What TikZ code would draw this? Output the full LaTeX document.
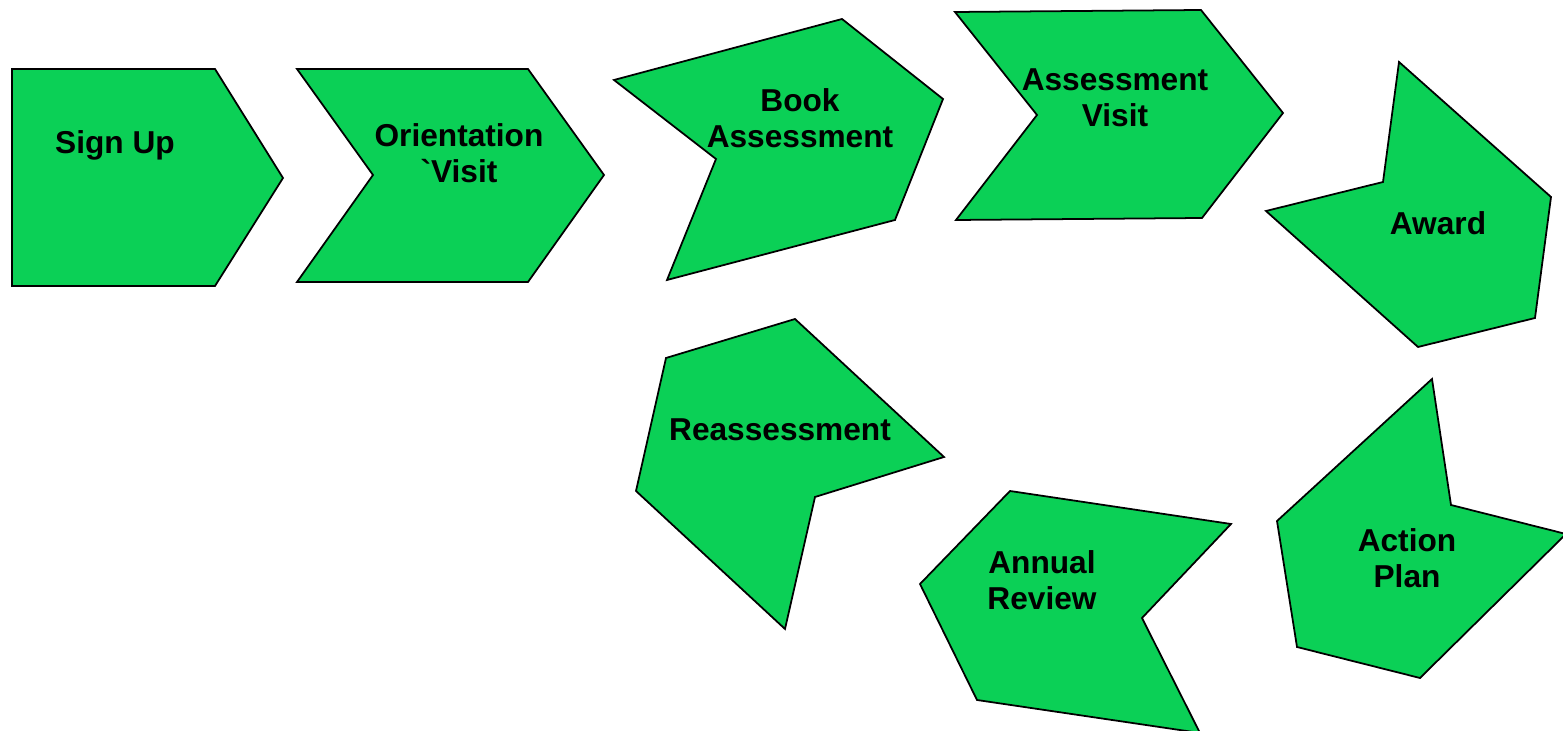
\documentclass[tikz,border=0pt]{standalone}
\usepackage{fontspec}
\newfontfamily\stepfont{Liberation Sans}
\usepackage{tikz}
\usetikzlibrary{positioning}
\definecolor{stepgreen}{HTML}{0BD056}
\tikzstyle{stepshape} = [draw=black, fill=stepgreen, line width=0.5pt, line join=miter]
\tikzstyle{steptext} = [align=center, inner sep=0pt, font=\stepfont\bfseries\fontsize{9}{10.3}\selectfont]

\begin{document}
\begin{tikzpicture}[x=0.01cm, y=-0.01cm]
        \useasboundingbox (0,0) rectangle (1563,731);

        % Sign up
        \draw[stepshape] (12,69) -- (215,69) -- (283,178) -- (215,286) -- (12,286) -- cycle;
        \node[steptext] (signup) at (115,145) {Sign Up};

        % Orientation visit
        \draw[stepshape] (297,69) -- (528,69) -- (604,175) -- (528,282) -- (297,282) -- (373,175) -- cycle;
        \node[steptext] (orient) at (459,153) {Orientation\\\textasciigrave Visit};

        % Book assessment
        \draw[stepshape] (614,80) -- (842,19) -- (943,99) -- (895,220) -- (667,280) -- (716,159) -- cycle;
        \node[steptext] (book) at (800,118) {Book\\Assessment};

        % Assessment visit
        \draw[stepshape] (955,12) -- (1201,10) -- (1283,113) -- (1202,218) -- (956,220) -- (1037,115) -- cycle;
        \node[steptext] (visit) at (1115,98) {Assessment\\Visit};

        % Award
        \draw[stepshape] (1399,62) -- (1551,197) -- (1535,318) -- (1418,347) -- (1266,211) -- (1383,182) -- cycle;
        \node[steptext] (award) at (1438,223) {Award};

        % Action plan
        \draw[stepshape] (1432,379) -- (1451,505) -- (1566,534) -- (1420,678) -- (1297,647) -- (1277,521) -- cycle;
        \node[steptext] (action) at (1407,558) {Action\\Plan};

        % Annual review
        \draw[stepshape] (1231,524) -- (1142,618) -- (1200,733) -- (977,700) -- (920,584) -- (1010,491) -- cycle;
        \node[steptext] (review) at (1042,580) {Annual\\Review};

        % Reassessment
        \draw[stepshape] (795,319) -- (944,457) -- (815,497) -- (785,629) -- (636,491) -- (666,358) -- cycle;
        \node[steptext] (reassess) at (780,430) {Reassessment};
    \end{tikzpicture}
\end{document}
